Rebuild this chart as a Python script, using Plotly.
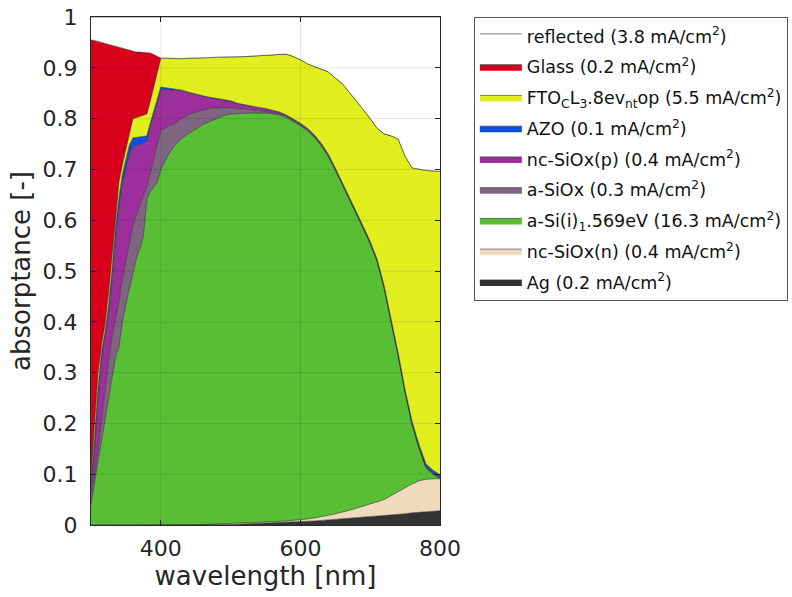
import plotly.graph_objects as go

# wavelength grid [nm]
wavelength = [300, 305, 310, 315, 320, 325, 330, 335, 340, 345, 350, 355, 360, 365, 370, 375, 380, 385, 390, 395, 400,
              410, 420, 430, 440, 450, 460, 470, 480, 490, 500, 510, 520, 530, 540, 550, 560, 570, 580, 590, 600,
              610, 620, 630, 640, 650, 660, 670, 680, 690, 700, 710, 720, 730, 740, 750, 760, 770, 780, 790, 800]

# cumulative absorptance (top edge of each stacked layer)
top_ag = [0]*21 + [0, 0, 0, 0, 0, 0, 0, 0, 0.0005, 0.001, 0.0015, 0.002, 0.002, 0.0025, 0.003, 0.004, 0.0045, 0.005, 0.006, 0.0065,
                   0.007, 0.008, 0.009, 0.010, 0.011, 0.012, 0.013, 0.014, 0.015, 0.016, 0.017, 0.018, 0.019, 0.021, 0.022, 0.024, 0.025, 0.026, 0.027, 0.028]
top_ncsiox_n = [0]*21 + [0, 0, 0, 0, 0.0005, 0.001, 0.0015, 0.002, 0.002, 0.0025, 0.003, 0.003, 0.0035, 0.004, 0.005, 0.006, 0.007, 0.008, 0.009, 0.010,
                         0.012, 0.014, 0.016, 0.019, 0.022, 0.025, 0.029, 0.033, 0.037, 0.041, 0.045, 0.050, 0.058, 0.066, 0.074, 0.081, 0.087, 0.090, 0.091, 0.091]
top_asi = [0.04, 0.085, 0.125, 0.165, 0.205, 0.25, 0.29, 0.33, 0.35, 0.40, 0.435, 0.465, 0.50, 0.525, 0.545, 0.568, 0.64, 0.657, 0.665, 0.675, 0.70,
           0.727, 0.748, 0.761, 0.771, 0.78, 0.788, 0.794, 0.80, 0.806, 0.809, 0.81, 0.81, 0.811, 0.811, 0.81, 0.81, 0.807, 0.802, 0.794, 0.786,
           0.776, 0.763, 0.746, 0.725, 0.698, 0.67, 0.642, 0.612, 0.583, 0.553, 0.518, 0.465, 0.400, 0.333, 0.26, 0.197, 0.15, 0.112, 0.10, 0.092]
top_asiox = [0.06, 0.10, 0.15, 0.21, 0.265, 0.32, 0.37, 0.405, 0.44, 0.485, 0.52, 0.56, 0.59, 0.61, 0.63, 0.648, 0.665, 0.69, 0.72, 0.75, 0.776,
             0.785, 0.79, 0.80, 0.808, 0.813, 0.817, 0.82, 0.821, 0.822, 0.822, 0.82, 0.818, 0.817, 0.816, 0.814, 0.812, 0.809, 0.805, 0.797, 0.788,
             0.778, 0.765, 0.748, 0.727, 0.700, 0.672, 0.644, 0.614, 0.585, 0.555, 0.520, 0.467, 0.402, 0.335, 0.262, 0.199, 0.152, 0.113, 0.101, 0.093]
top_ncsiox_p = [0.08, 0.15, 0.25, 0.325, 0.37, 0.415, 0.48, 0.565, 0.625, 0.672, 0.703, 0.73, 0.745, 0.748, 0.75, 0.752, 0.756, 0.783, 0.808, 0.833, 0.857,
                0.857, 0.856, 0.855, 0.851, 0.847, 0.844, 0.841, 0.839, 0.837, 0.834, 0.829, 0.826, 0.823, 0.821, 0.819, 0.816, 0.812, 0.806, 0.798, 0.790,
                0.780, 0.767, 0.750, 0.729, 0.702, 0.674, 0.646, 0.616, 0.587, 0.557, 0.522, 0.469, 0.404, 0.337, 0.264, 0.201, 0.154, 0.115, 0.102, 0.094]
top_azo = [0.088, 0.17, 0.27, 0.34, 0.38, 0.43, 0.50, 0.585, 0.645, 0.69, 0.72, 0.748, 0.762, 0.763, 0.763, 0.764, 0.766, 0.792, 0.816, 0.84, 0.862,
           0.860, 0.858, 0.856, 0.852, 0.848, 0.845, 0.842, 0.840, 0.838, 0.835, 0.830, 0.827, 0.824, 0.822, 0.820, 0.817, 0.813, 0.807, 0.799, 0.791,
           0.781, 0.768, 0.751, 0.730, 0.703, 0.675, 0.647, 0.617, 0.588, 0.558, 0.523, 0.471, 0.406, 0.339, 0.266, 0.204, 0.158, 0.120, 0.108, 0.099]
top_fto = [0.10, 0.20, 0.30, 0.355, 0.395, 0.455, 0.53, 0.615, 0.675, 0.71, 0.74, 0.77, 0.80, 0.802, 0.804, 0.806, 0.809, 0.835, 0.865, 0.895, 0.919,
           0.919, 0.918, 0.918, 0.919, 0.919, 0.920, 0.920, 0.921, 0.921, 0.922, 0.922, 0.922, 0.923, 0.924, 0.925, 0.926, 0.927, 0.927, 0.922, 0.916,
           0.908, 0.903, 0.897, 0.892, 0.880, 0.869, 0.852, 0.836, 0.818, 0.800, 0.781, 0.770, 0.766, 0.760, 0.726, 0.703, 0.700, 0.698, 0.697, 0.696]
top_glass = [0.955, 0.954, 0.952, 0.950, 0.948, 0.946, 0.945, 0.943, 0.941, 0.939, 0.937, 0.934, 0.932, 0.931, 0.931, 0.930, 0.930, 0.929, 0.926, 0.922, 0.919,
             0.919, 0.918, 0.918, 0.919, 0.919, 0.920, 0.920, 0.921, 0.921, 0.922, 0.922, 0.922, 0.923, 0.924, 0.925, 0.926, 0.927, 0.927, 0.922, 0.916,
             0.908, 0.903, 0.897, 0.892, 0.880, 0.869, 0.852, 0.836, 0.818, 0.800, 0.781, 0.770, 0.766, 0.760, 0.726, 0.703, 0.700, 0.698, 0.697, 0.696]
top_reflected = [1.0] * len(wavelength)

layer_names = [
    "Ag (0.2 mA/cm<sup>2</sup>)",
    "nc-SiOx(n) (0.4 mA/cm<sup>2</sup>)",
    "a-Si(i)<sub>1</sub>.569eV (16.3 mA/cm<sup>2</sup>)",
    "a-SiOx (0.3 mA/cm<sup>2</sup>)",
    "nc-SiOx(p) (0.4 mA/cm<sup>2</sup>)",
    "AZO (0.1 mA/cm<sup>2</sup>)",
    "FTO<sub>C</sub>L<sub>3</sub>.8ev<sub>nt</sub>op (5.5 mA/cm<sup>2</sup>)",
    "Glass (0.2 mA/cm<sup>2</sup>)",
    "reflected (3.8 mA/cm<sup>2</sup>)",
]
layer_tops = [top_ag, top_ncsiox_n, top_asi, top_asiox, top_ncsiox_p, top_azo, top_fto, top_glass, top_reflected]
layer_colors = ["#333333", "#f0dabd", "#58bf34", "#7e6681", "#9d2f9d", "#0b4fe0", "#e2ef1e", "#d9001c", "#ffffff"]

fig = go.Figure()
n = len(layer_names)
for i, (name, top, col) in enumerate(zip(layer_names, layer_tops, layer_colors)):
    fig.add_trace(go.Scatter(
        x=wavelength, y=top, name=name, mode="lines",
        fill="tozeroy" if i == 0 else "tonexty",
        fillcolor=col, line=dict(color="#2a2a2a", width=0.6),
        legendgroup=f"g{i}", legendrank=100 * (n - i),
    ))

grid_col = "rgba(0,0,0,0.10)"
shapes = []
for gx in [400, 600]:
    shapes.append(dict(type="line", xref="x", yref="paper", x0=gx, x1=gx, y0=0, y1=1,
                       line=dict(color=grid_col, width=1), layer="above"))
for k in range(1, 10):
    gy = k / 10
    shapes.append(dict(type="line", xref="paper", yref="y", x0=0, x1=1, y0=gy, y1=gy,
                       line=dict(color=grid_col, width=1), layer="above"))

axis_font = dict(family="DejaVu Sans", size=22, color="#262626")
title_font = dict(family="DejaVu Sans", size=26, color="#262626")
fig.update_layout(
    width=792, height=597,
    margin=dict(l=91, r=352, t=17, b=72, autoexpand=False),
    paper_bgcolor="white", plot_bgcolor="white",
    font=dict(family="DejaVu Sans", color="#262626"),
    shapes=shapes,
    xaxis=dict(range=[300, 800], tickvals=[400, 600, 800], ticktext=["400", "600", "800"],
               showgrid=False, zeroline=False, showline=True, linecolor="#262626", linewidth=1,
               mirror="ticks", ticks="inside", ticklen=5, tickcolor="#262626", automargin=False,
               tickfont=axis_font, layer="above traces", ticklabelstandoff=4,
               title=dict(text="wavelength [nm]", font=title_font, standoff=2)),
    yaxis=dict(range=[0, 1], tickvals=[i / 10 for i in range(11)],
               ticktext=["0", "0.1", "0.2", "0.3", "0.4", "0.5", "0.6", "0.7", "0.8", "0.9", "1"],
               showgrid=False, zeroline=False, showline=True, linecolor="#262626", linewidth=1,
               mirror="ticks", ticks="inside", ticklen=5, tickcolor="#262626", automargin=False,
               tickfont=axis_font, layer="above traces", ticklabelstandoff=8,
               title=dict(text="absorptance [-]", font=title_font, standoff=4)),
    legend=dict(x=1.097, xanchor="left", y=1.0, yanchor="top",
                bgcolor="white", bordercolor="#555555", borderwidth=1,
                font=dict(family="DejaVu Sans", size=17.5, color="#111111"),
                traceorder="grouped", tracegroupgap=5, itemwidth=42),
    showlegend=True,
)

fig.write_html("out.html")
